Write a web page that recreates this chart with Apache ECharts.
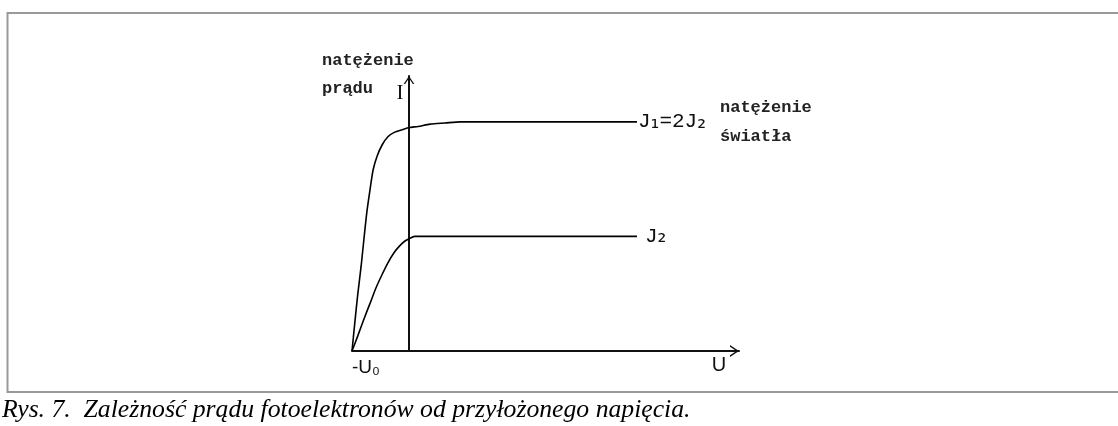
<!DOCTYPE html>
<html>
<head>
<meta charset="utf-8">
<script src="https://cdn.jsdelivr.net/npm/echarts@6/dist/echarts.min.js"></script>
<style>
  html, body { margin: 0; padding: 0; background: #fff; }
  #chart { width: 1118px; height: 426px; }
</style>
</head>
<body>
<div id="chart"></div>
<script>
// Voltage U (in units of U0) and photocurrent I (in units of the J2 saturation current)
const uJ1 = [-1, -0.95, -0.9, -0.84, -0.79, -0.74, -0.68, -0.63, -0.56, -0.47, -0.37, -0.25, -0.12, 0, 0.16, 0.37, 0.63, 0.9, 4.0];
const iJ1 = [0, 0.25, 0.49, 0.74, 0.98, 1.21, 1.42, 1.58, 1.7, 1.8, 1.87, 1.91, 1.93, 1.95, 1.96, 1.98, 1.99, 2.0, 2.0];
const uJ2 = [-1, -0.9, -0.79, -0.68, -0.58, -0.47, -0.37, -0.26, -0.16, -0.07, 0, 0.1, 4.0];
const iJ2 = [0, 0.13, 0.28, 0.42, 0.55, 0.67, 0.77, 0.86, 0.92, 0.96, 0.98, 1.0, 1.0];

// Label of the stopping-voltage point on the U axis
const labelUmin = '-U₀';

const toPairs = (xs, ys) => xs.map((x, i) => [x, ys[i]]);

// Open chevron used as the axis arrow heads (drawn pointing up, rotated by the axis)
const chevron = 'path://M6,0 L12,9 L10.3,9 L6,2.6 L1.7,9 L0,9 Z';

const ink = '#111';
const labelFont = 'bold 17px "Liberation Mono", "Courier New", monospace';

// "J" in a slab-serif face, indices as true subscript glyphs
const subRich = {
  m: { fontFamily: '"Liberation Mono", monospace', fontSize: 21, color: ink },
  s: { fontFamily: '"DejaVu Sans", sans-serif', fontSize: 22, color: ink }
};

const chart = echarts.init(document.getElementById('chart'), null, { renderer: 'canvas' });

chart.setOption({
  backgroundColor: '#fff',
  animation: false,
  grid: { left: 352, right: 379, top: 76, bottom: 75, containLabel: false },
  xAxis: {
    type: 'value',
    min: -1,
    max: 5.79,
    interval: 1,
    axisLine: {
      show: true,
      onZero: true,
      symbol: ['none', chevron],
      symbolSize: [12, 9],
      symbolOffset: [0, -4.5],
      lineStyle: { color: ink, width: 2 }
    },
    axisTick: { show: false },
    splitLine: { show: false },
    axisLabel: {
      show: true,
      showMinLabel: true,
      align: 'left',
      margin: 7,
      color: ink,
      fontFamily: '"Liberation Sans", Arial, sans-serif',
      fontSize: 19,
      formatter: v => (v === -1 ? labelUmin : '')
    }
  },
  yAxis: {
    type: 'value',
    min: 0,
    max: 2.4,
    axisLine: {
      show: true,
      onZero: true,
      symbol: ['none', chevron],
      symbolSize: [12, 8],
      symbolOffset: [0, -4],
      lineStyle: { color: ink, width: 2 }
    },
    axisTick: { show: false },
    splitLine: { show: false },
    axisLabel: { show: false }
  },
  series: [
    {
      name: 'J1=2J2',
      type: 'line',
      data: toPairs(uJ1, iJ1),
      showSymbol: false,
      smooth: 0.25,
      lineStyle: { color: '#000', width: 1.6 },
      endLabel: {
        show: true,
        formatter: '{m|J}{s|₁}{m|=2J}{s|₂}',
        distance: 1,
        rich: subRich
      }
    },
    {
      name: 'J2',
      type: 'line',
      data: toPairs(uJ2, iJ2),
      showSymbol: false,
      smooth: 0.25,
      lineStyle: { color: '#000', width: 1.6 },
      endLabel: {
        show: true,
        formatter: '{m|J}{s|₂}',
        distance: 8,
        rich: subRich
      }
    }
  ],
  graphic: [
    // frame around the figure
    {
      type: 'rect',
      silent: true,
      shape: { x: 7.5, y: 13, width: 1200, height: 379 },
      style: { fill: 'none', stroke: '#999', lineWidth: 2 }
    },
    // axis captions
    { type: 'text', style: { text: 'natężenie', x: 322, y: 61, font: labelFont, fill: '#222', textVerticalAlign: 'middle' } },
    { type: 'text', style: { text: 'prądu', x: 322, y: 89, font: labelFont, fill: '#222', textVerticalAlign: 'middle' } },
    { type: 'text', style: { text: 'I', x: 400, y: 93, font: '21px "Liberation Serif", serif', fill: ink, textAlign: 'center', textVerticalAlign: 'middle' } },
    { type: 'text', style: { text: 'U', x: 719, y: 365, font: '20px "Liberation Sans", sans-serif', fill: ink, textAlign: 'center', textVerticalAlign: 'middle' } },
    { type: 'text', style: { text: 'natężenie', x: 720, y: 108, font: labelFont, fill: '#222', textVerticalAlign: 'middle' } },
    { type: 'text', style: { text: 'światła', x: 720, y: 137, font: labelFont, fill: '#222', textVerticalAlign: 'middle' } },
    // figure caption
    { type: 'text', style: { text: 'Rys. 7.  Zależność prądu fotoelektronów od przyłożonego napięcia.', x: 2, y: 410, font: 'italic 25.7px "Liberation Serif", "Times New Roman", serif', fill: '#000', textVerticalAlign: 'middle' } }
  ]
});
</script>
</body>
</html>
